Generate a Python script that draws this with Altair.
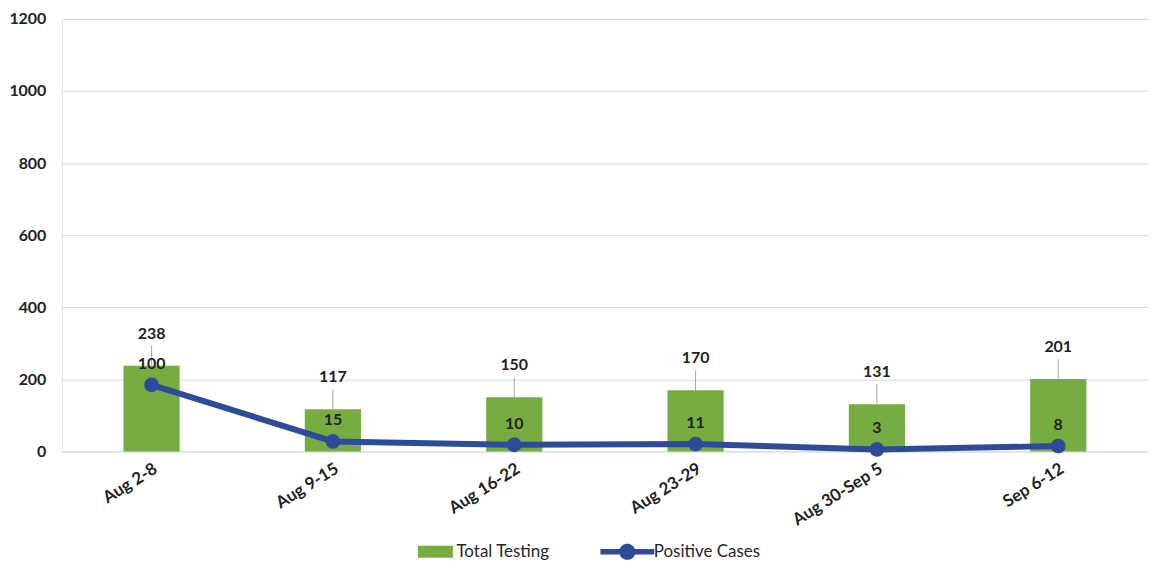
import altair as alt
import pandas as pd

weeks = ["Aug 2-8", "Aug 9-15", "Aug 16-22", "Aug 23-29", "Aug 30-Sep 5", "Sep 6-12"]
total_testing = [238, 117, 150, 170, 131, 201]
positive_cases = [100, 15, 10, 11, 3, 8]
y_ticks = [0, 200, 400, 600, 800, 1000, 1200]
series_names = ["Total Testing", "Positive Cases"]

GREEN = "#77AC41"
BLUE = "#2D4A9B"
FONT = "Lato"

bars_df = pd.DataFrame({"week": weeks, "value": total_testing, "series": series_names[0]})
line_df = pd.DataFrame({"week": weeks, "value": positive_cases, "series": series_names[1]})

x_enc = alt.X(
    "week:N",
    sort=weeks,
    scale=alt.Scale(paddingInner=0.69, paddingOuter=0.34),
    axis=alt.Axis(
        title=None, labelAngle=328, labelAlign="right", labelBaseline="top",
        labelFont=FONT, labelFontSize=17, labelFontWeight="bold", labelColor="#222222",
        labelPadding=9, ticks=False, domain=False, grid=False,
    ),
)

rect_path = "M-0.9,-0.45 L1.7,-0.45 L1.7,0.45 L-0.9,0.45 Z"
line_path = ("M-2,-0.2 L-0.566,-0.2 A0.6,0.6 0 0,1 0.566,-0.2 L2,-0.2 L2,0.2 "
             "L0.566,0.2 A0.6,0.6 0 0,1 -0.566,0.2 L-2,0.2 Z")

y_left = alt.Y(
    "value:Q",
    scale=alt.Scale(domain=[0, 1200]),
    axis=alt.Axis(
        title=None, values=y_ticks, format="d", labelFont=FONT, labelFontSize=16,
        labelFontWeight="bold", labelColor="#222222", labelPadding=16, ticks=False,
        domain=False, gridColor="#D9D9D9", gridWidth=1,
    ),
)

bars = alt.Chart(bars_df).mark_bar(color=GREEN).encode(
    x=x_enc,
    y=y_left,
    color=alt.Color(
        "series:N",
        scale=alt.Scale(domain=series_names, range=[GREEN, BLUE]),
        legend=alt.Legend(
            title=None, orient="none", direction="horizontal",
            legendX=356, legendY=521,
            symbolType=alt.ExprRef(f"datum.value == 'Positive Cases' ? '{line_path}' : '{rect_path}'"),
            symbolSize=729, symbolStrokeWidth=0, symbolOpacity=1,
            labelFont=FONT, labelFontSize=17, labelColor="#262626", labelOffset=13,
            columnPadding=50,
        ),
    ),
)

bar_leaders = alt.Chart(bars_df).mark_rule(color="#A6A6A6", strokeWidth=1, y2Offset=-20).encode(
    x=alt.X("week:N", sort=weeks),
    y=alt.Y("value:Q"),
    y2="value:Q",
)

bar_labels = alt.Chart(bars_df).mark_text(
    font=FONT, fontSize=16, fontWeight="bold", color="#222222", dy=-32
).encode(
    x=alt.X("week:N", sort=weeks),
    y=alt.Y("value:Q"),
    text="value:Q",
)

left = alt.layer(bars, bar_leaders, bar_labels)

y_right = alt.Y("value:Q", scale=alt.Scale(domain=[0, 650]), axis=None)

line = alt.Chart(line_df).mark_line(color=BLUE, strokeWidth=6).encode(
    x=alt.X("week:N", sort=weeks),
    y=y_right,
)
points = alt.Chart(line_df).mark_point(filled=True, color=BLUE, size=220, opacity=1).encode(
    x=alt.X("week:N", sort=weeks),
    y=y_right,
)
line_labels = alt.Chart(line_df).mark_text(
    font=FONT, fontSize=16, fontWeight="bold", color="#222222", dy=-21
).encode(
    x=alt.X("week:N", sort=weeks),
    y=y_right,
    text="value:Q",
)
right = alt.layer(line, points, line_labels)

chart = alt.layer(left, right).resolve_scale(y="independent").properties(
    width=1090, height=434,
    padding={"left": 0, "top": 2, "right": 0, "bottom": 0},
).configure_view(stroke=None).configure(background="white")

chart.save("out.html", embed_options={"renderer": "svg", "actions": False})
